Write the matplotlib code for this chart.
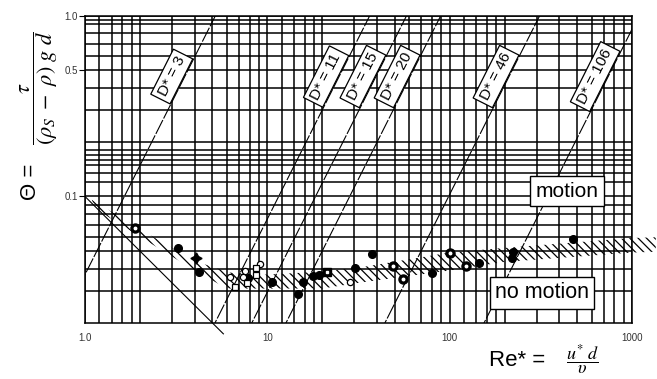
import numpy as np
import matplotlib
matplotlib.use('Agg')
import matplotlib.pyplot as plt
from matplotlib.ticker import NullFormatter

plt.rcParams['font.family'] = ['Liberation Sans', 'DejaVu Sans']
plt.rcParams['mathtext.fontset'] = 'stix'
plt.rcParams['hatch.linewidth'] = 0.9
plt.rcParams['hatch.color'] = 'black'

# ---------------- data ----------------
re_filled = [3.23, 4.24, 7.87, 10.6, 15.6, 14.8, 17.9, 19.1, 30.3, 37.7, 79.8, 144, 222, 219, 473]
th_filled = [0.0517, 0.0384, 0.0353, 0.0338, 0.0336, 0.0288, 0.0365, 0.0368, 0.0404, 0.0481,
             0.0379, 0.0428, 0.0495, 0.0455, 0.058]
re_ring = [1.88, 48.7, 55.3, 101, 123]
th_ring = [0.0672, 0.0413, 0.0351, 0.0486, 0.0413]
re_ring_sq = [21.3]
th_ring_sq = [0.0384]
re_open_c = [6.24, 7.55, 7.39, 9.12, 28.4]
th_open_c = [0.0360, 0.0388, 0.0360, 0.0422, 0.0338]
re_open_s = [6.65, 7.71, 8.67, 8.67]
th_open_s = [0.0318, 0.0331, 0.0401, 0.0368]
re_star = [4.06]
th_star = [0.0459]

band_re_up = [1.09, 2, 4, 6.2, 10, 20, 32, 100, 200, 1000, 1350]
band_th_up = [0.096, 0.066, 0.044, 0.038, 0.037, 0.0385, 0.0405, 0.049, 0.052, 0.059, 0.0595]
band_re_low = [1.13, 2, 4, 6, 10, 20, 32, 100, 200, 1000, 1350]
band_th_low = [0.086, 0.060, 0.039, 0.031, 0.031, 0.031, 0.0334, 0.039, 0.0435, 0.049, 0.0495]

d_star = [3, 11, 15, 20, 46, 106]
d_label_theta = 0.46

lam_re = [1.0, 5.74]     # laminar asymptote  Theta = 0.1 / Re*
lam_coef = 0.1

x_major = [1, 10, 100, 1000]
x_major_labels = ['1.0', '10', '100', '1000']
x_mant = [1.2, 1.4, 1.6, 1.8, 2, 3, 4, 5, 6, 7, 8, 9]
y_major = [0.1, 0.5, 1.0]
y_major_labels = ['0.1', '0.5', '1.0']
y_minor = [0.03, 0.04, 0.05, 0.06, 0.07, 0.08, 0.09,
           0.12, 0.135, 0.15, 0.16, 0.17, 0.18, 0.2, 0.3, 0.4,
           0.6, 0.7, 0.8, 0.9, 0.95]

# ---------------- figure ----------------
W, H = 657, 379
fig = plt.figure(figsize=(W / 100, H / 100), dpi=100)
ax = fig.add_axes([85 / W, 1 - 323 / H, 547 / W, (323 - 15.5) / H])
ax.set_xscale('log')
ax.set_yscale('log')
ax.set_xlim(1, 1000)
ax.set_ylim(0.02, 1.0)

ax.set_xticks(x_major)
ax.set_xticklabels(x_major_labels)
ax.set_xticks([m * d for d in [1, 10, 100] for m in x_mant], minor=True)
ax.xaxis.set_minor_formatter(NullFormatter())
ax.set_yticks(y_major)
ax.set_yticklabels(y_major_labels)
ax.set_yticks(y_minor, minor=True)
ax.yaxis.set_minor_formatter(NullFormatter())
ax.tick_params(axis='x', which='both', length=0, pad=7, labelsize=7, labelcolor='#333333')
ax.tick_params(axis='y', which='major', length=4, width=0.8, pad=1, labelsize=7, labelcolor='#333333')
ax.tick_params(axis='y', which='minor', length=0)
ax.grid(which='both', color='black', lw=1.1)
ax.set_axisbelow(True)
for s in ax.spines.values():
    s.set_linewidth(1.1)

# hatched band
bx = list(band_re_up) + list(band_re_low)[::-1]
by = list(band_th_up) + list(band_th_low)[::-1]
ax.fill(bx, by, facecolor='none', edgecolor='black', hatch='\\\\\\\\', lw=0,
        clip_on=False, zorder=2)

# laminar line
lr = np.array(lam_re)
ax.plot(lr, lam_coef / lr, color='black', lw=0.8, clip_on=False, zorder=3)

# D* lines  Theta = Re*^2 / D*^3
re_span = np.logspace(-0.5, 3.2, 200)
p0 = ax.transData.transform((10, 0.1))
p1 = ax.transData.transform((100, 0.1 * 100))
ang = np.degrees(np.arctan2(p1[1] - p0[1], p1[0] - p0[0]))
for D in d_star:
    ax.plot(re_span, re_span ** 2 / D ** 3, color='black', lw=0.8,
            ls=(0, (14, 1.5)), zorder=3)
    re_lab = np.sqrt(d_label_theta * D ** 3)
    ax.annotate(f'D* = {D}', xy=(re_lab, d_label_theta), xytext=(-13, 0),
                textcoords='offset pixels', rotation=ang, ha='center', va='center',
                fontsize=11, zorder=6,
                bbox=dict(boxstyle='square,pad=0.25', fc='white', ec='black', lw=0.9))

# data points
ax.plot(re_filled, th_filled, 'o', ms=5.5, color='black', zorder=5)
ax.plot(re_ring, th_ring, 'o', ms=6.5, color='black', zorder=5)
ax.plot(re_ring, th_ring, 'o', ms=1.8, color='white', zorder=5.1)
ax.plot(re_ring_sq, th_ring_sq, 's', ms=6, color='black', zorder=5)
ax.plot(re_ring_sq, th_ring_sq, 's', ms=2, color='white', zorder=5.1)
ax.plot(re_open_c, th_open_c, 'o', ms=4.5, mfc='white', mec='black', mew=0.9, zorder=5)
ax.plot(re_open_s, th_open_s, 's', ms=4, mfc='white', mec='black', mew=0.9, zorder=5)
ax.plot(re_star, th_star, marker=(4, 1, 0), ms=8, color='black', ls='none', zorder=5)

# region labels
ax.text(440, 0.107, 'motion', fontsize=15, ha='center', va='center', zorder=7,
        bbox=dict(boxstyle='square,pad=0.25', fc='white', ec='black', lw=1))
ax.text(321, 0.0293, 'no motion', fontsize=15.5, ha='center', va='center', zorder=7,
        bbox=dict(boxstyle='square,pad=0.25', fc='white', ec='black', lw=1))

# axis titles
fig.text(30 / W, 1 - 182 / H, 'Θ =', rotation=90, ha='center', va='center', fontsize=16)
fig.text(39 / W, 1 - 88 / H, r'$\dfrac{\tau}{(\rho_S\ -\ \rho)\ g\ d}$', rotation=90,
         ha='center', va='center', fontsize=16)
fig.text(517 / W, 1 - 361 / H, 'Re* =', ha='center', va='center', fontsize=16)
fig.text(583 / W, 1 - 359 / H, r'$\dfrac{u^{*}\ d}{\upsilon}$', ha='center', va='center',
         fontsize=13)

fig.savefig('out.png', dpi=100)
